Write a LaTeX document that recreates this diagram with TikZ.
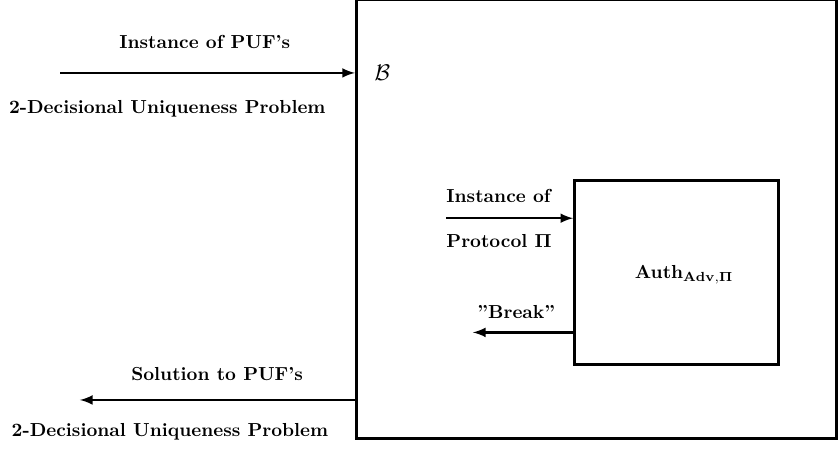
\documentclass[tikz,border=0pt]{standalone}
\usetikzlibrary{positioning}
\tikzset{
  boxnode/.style={draw, line width=1.5pt, inner sep=0pt},
  arr/.style={-latex, line width=1.3pt},
  lbl/.style={font=\bfseries, inner sep=0pt}
}
\begin{document}
\begin{tikzpicture}
        \useasboundingbox (0, 0) rectangle (15.63, 8.36);
        \node[boxnode, minimum width=8.96cm, minimum height=8.19cm, anchor=south west] (B) at (6.62, 0.15) {};
        \node[boxnode, minimum width=3.81cm, minimum height=3.43cm, anchor=south west] (auth) at (10.69, 1.53) {};
        \node[inner sep=0pt] (Blbl) at (7.13, 7.0) {\large$\mathcal{B}$};
        \node[lbl] (authlbl) at (12.76, 3.23) {Auth$_{\mathbf{Adv},\mathbf{\Pi}}$};
        % outer input / output
        \coordinate (pufin) at (1.12, 7.0);
        \coordinate (pufout) at (1.49, 0.9);
        \draw[arr] (pufin) -- (pufin -| B.west);
        \draw[arr] (pufout -| B.west) -- (pufout);
        \node[lbl] (inst) at (3.82, 7.57) {Instance of PUF's};
        \node[lbl] (prob1) at (3.12, 6.34) {2-Decisional Uniqueness Problem};
        \node[lbl] (sol) at (4.05, 1.38) {Solution to PUF's};
        \node[lbl] (prob2) at (3.17, 0.3) {2-Decisional Uniqueness Problem};
        % inner input / output
        \coordinate (protin) at (8.32, 4.29);
        \coordinate (brkout) at (8.82, 2.16);
        \draw[arr] (protin) -- (protin -| auth.west);
        \draw[arr] (brkout -| auth.west) -- (brkout);
        \node[lbl, anchor=west] (instof) at (8.32, 4.70) {Instance of};
        \node[lbl, anchor=west] (prot) at (8.32, 3.86) {Protocol $\mathbf{\Pi}$};
        \node[lbl] (brk) at (9.63, 2.54) {''Break''};
\end{tikzpicture}
\end{document}
